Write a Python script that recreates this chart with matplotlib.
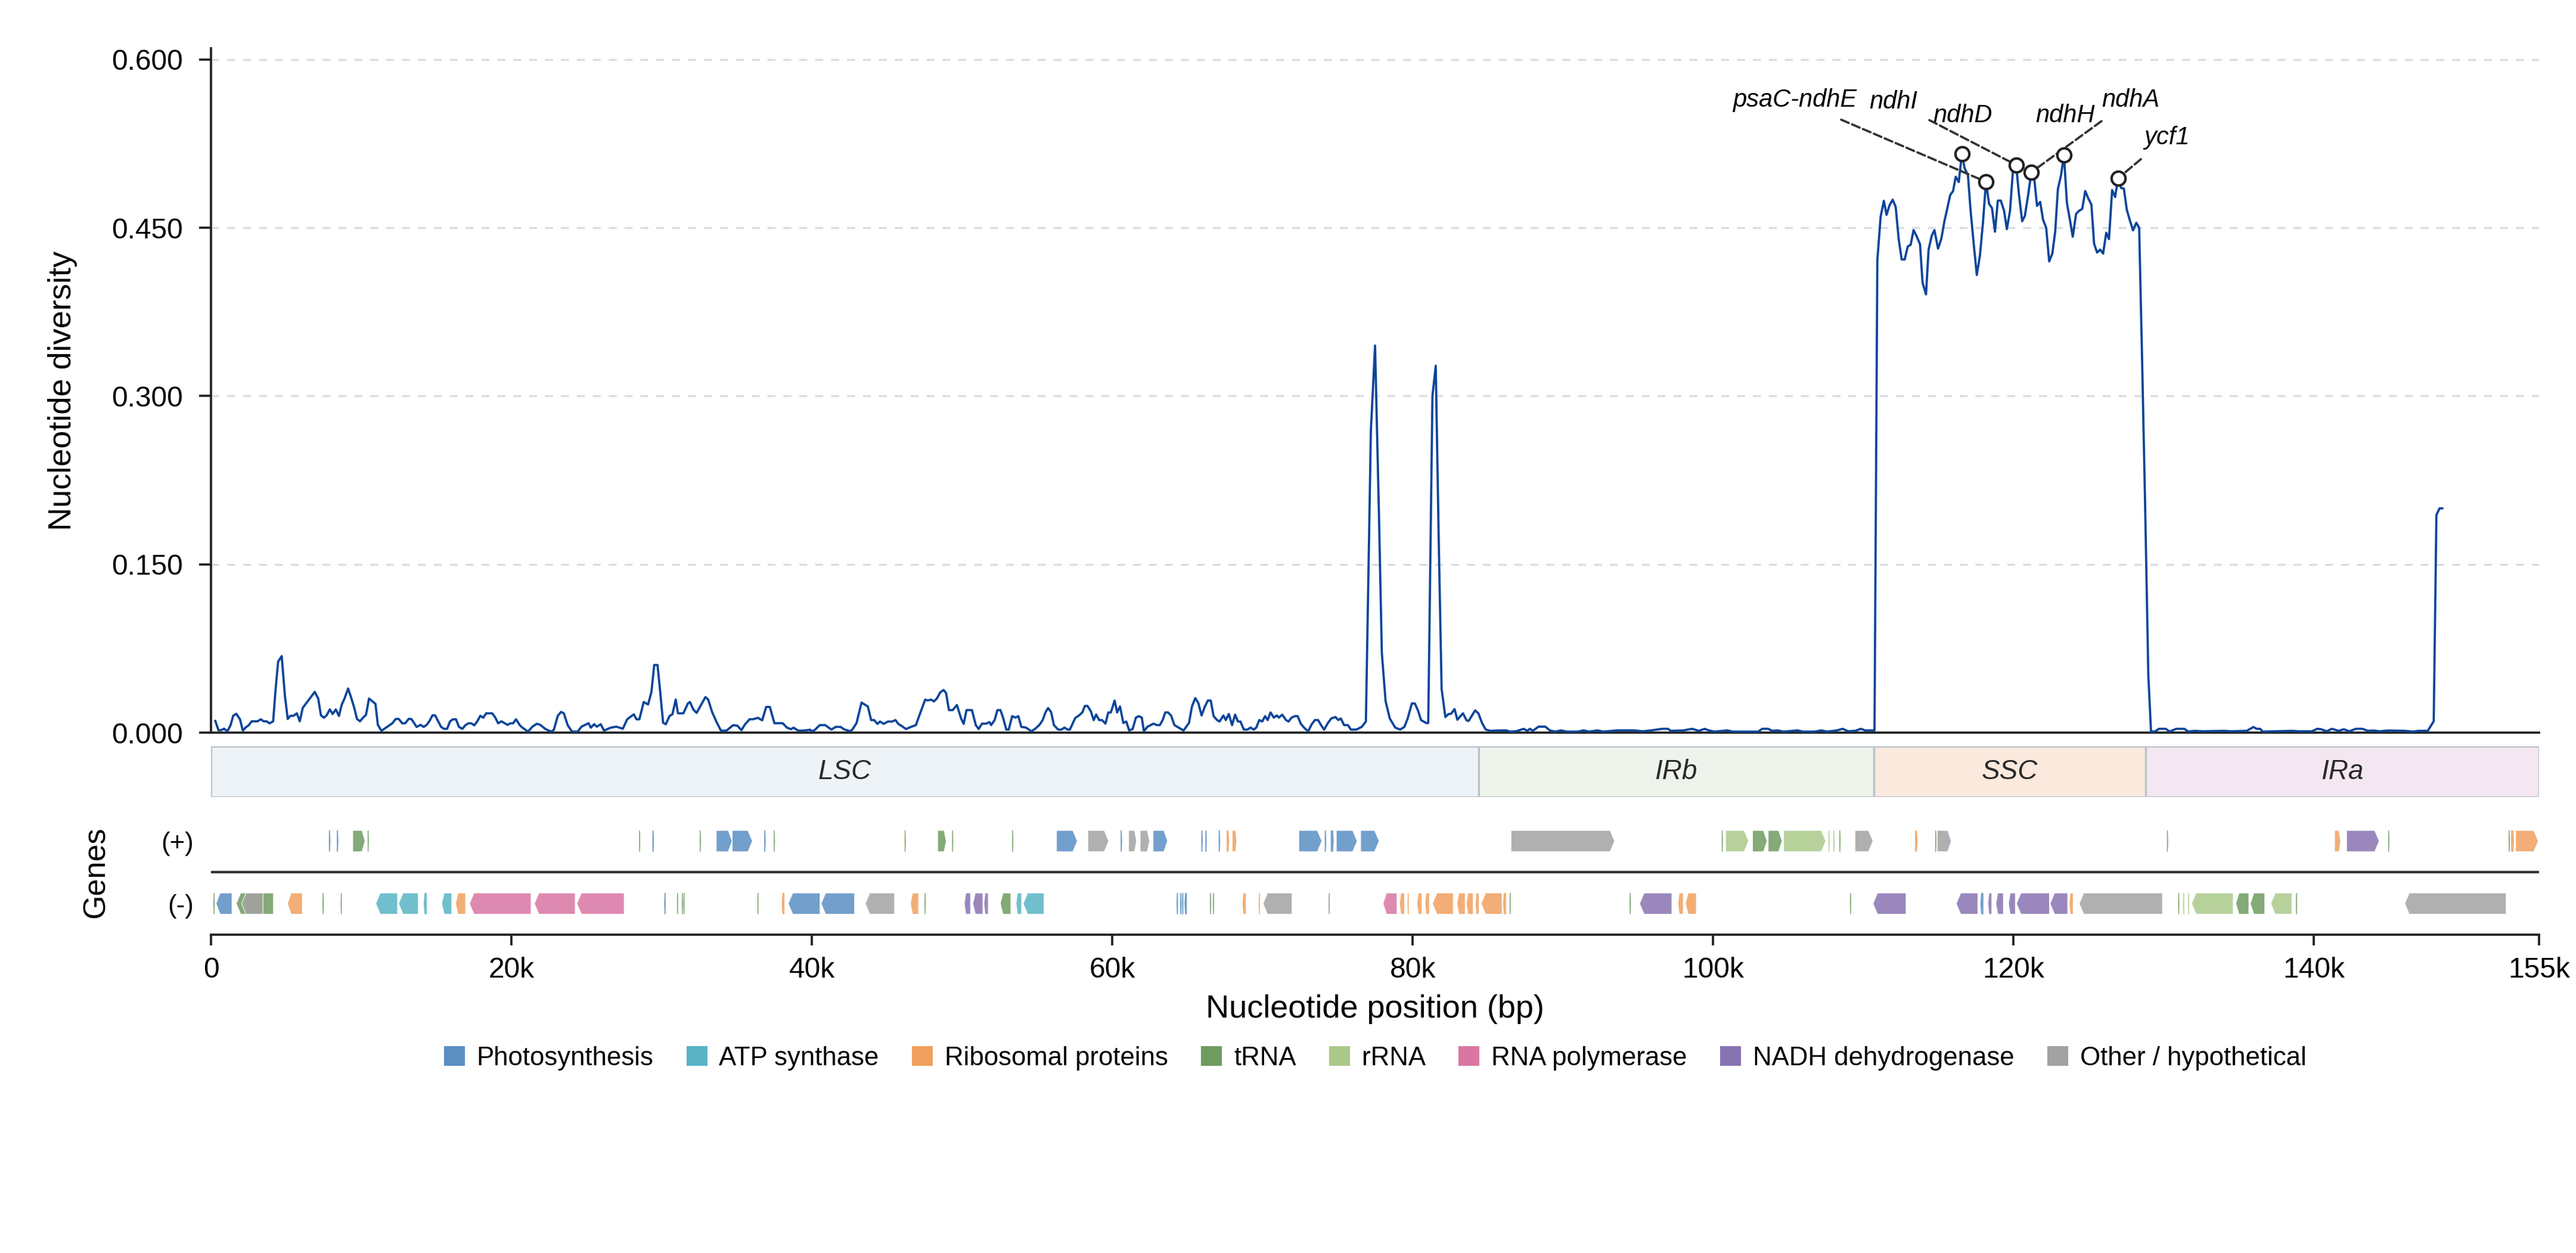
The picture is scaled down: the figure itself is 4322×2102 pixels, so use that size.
import numpy as np
import matplotlib
matplotlib.use("Agg")
import matplotlib.pyplot as plt
from matplotlib.patches import Polygon, Rectangle, Patch

plt.rcParams['font.family'] = ['Liberation Sans', 'DejaVu Sans']

# ---- nucleotide diversity (window midpoint in kb, Pi) ----
lsc_start = [
    (0.29, .0104), (0.50, .0021), (0.69, .0023), (0.87, .0035), (1.09, .0012), (1.30, .0065),
    (1.48, .0150), (1.69, .0168), (1.93, .0119), (2.12, .0018), (2.32, .0048), (2.51, .0065),
    (2.71, .0101), (3.11, .0101), (3.31, .0119), (3.51, .0101), (3.70, .0101), (3.90, .0083),
    (4.14, .0101), (4.30, .0384), (4.47, .0632), (4.71, .0682), (4.92, .0331), (5.11, .0122),
    (5.29, .0150), (5.49, .0150), (5.72, .0172), (5.91, .0101), (6.11, .0221), (6.28, .0251),
    (6.55, .0299), (6.91, .0363), (7.14, .0304), (7.32, .0154), (7.52, .0133), (7.70, .0154),
    (7.91, .0207), (8.10, .0166), (8.31, .0207), (8.52, .0149), (8.71, .0251), (8.89, .0304),
    (9.13, .0393), (9.33, .0313), (9.53, .0225), (9.72, .0122), (9.92, .0101), (10.12, .0133),
    (10.32, .0158), (10.52, .0304), (10.95, .0257), (11.11, .0069), (11.35, .0016), (12.07, .0083),
    (12.30, .0122), (12.50, .0122), (12.73, .0083), (12.93, .0083), (13.16, .0122), (13.34, .0122),
    (13.69, .0051), (13.96, .0069), (14.16, .0051), (14.36, .0069), (14.55, .0104), (14.75, .0154),
    (14.92, .0154), (15.32, .0051), (15.51, .0034), (15.72, .0034), (15.92, .0101), (16.11, .0119),
    (16.31, .0119), (16.51, .0051), (16.74, .0034), (16.93, .0065), (17.13, .0083), (17.33, .0083),
    (17.53, .0065), (17.73, .0101), (17.93, .0150), (18.13, .0133), (18.32, .0172), (18.72, .0172),
    (18.92, .0136), (19.12, .0083), (19.34, .0101), (19.56, .0083), (19.74, .0069), (19.94, .0083),
    (20.11, .0083), (20.31, .0119), (20.57, .0065),
]
lsc_mid = [
    (20.74, .0044), (21.11, .0009), (21.40, .0053), (21.69, .0079), (21.91, .0070), (22.28, .0031),
    (22.65, .0009), (22.83, .0026), (23.09, .0150), (23.31, .0185), (23.49, .0172), (23.75, .0066),
    (24.04, .0009), (24.41, .0009), (24.67, .0053), (25.14, .0084), (25.29, .0044), (25.51, .0075),
    (25.69, .0053), (25.95, .0075), (26.17, .0018), (26.61, .0044), (26.98, .0053), (27.42, .0035),
    (27.71, .0119), (28.15, .0163), (28.33, .0119), (28.52, .0119), (28.81, .0273), (29.10, .0251),
    (29.32, .0361), (29.51, .0603), (29.73, .0603), (29.91, .0361), (30.10, .0088), (30.28, .0075),
    (30.54, .0150), (30.72, .0163), (30.94, .0295), (31.09, .0172), (31.45, .0172), (31.75, .0260),
    (31.89, .0273), (32.11, .0207), (32.33, .0176), (32.55, .0229), (32.92, .0317), (33.10, .0295),
    (33.36, .0185), (33.65, .0097), (33.95, .0018), (34.32, .0018), (34.76, .0066), (35.05, .0062),
    (35.31, .0022), (35.56, .0075), (35.86, .0119), (36.08, .0119), (36.41, .0132), (36.70, .0110),
    (36.96, .0229), (37.21, .0229), (37.51, .0084), (38.06, .0084), (38.35, .0044), (38.61, .0031),
    (38.79, .0044), (39.09, .0018), (39.45, .0018), (39.89, .0026),
]
lsc_end = [
    (40.00, .0011), (40.20, .0024), (40.53, .0067), (40.89, .0067), (41.31, .0027), (41.59, .0051),
    (41.92, .0051), (42.15, .0029), (42.56, .0013), (42.70, .0027), (42.98, .0086), (43.31, .0268),
    (43.73, .0233), (43.95, .0112), (44.15, .0112), (44.37, .0078), (44.54, .0099), (44.79, .0078),
    (45.07, .0099), (45.35, .0099), (45.57, .0112), (45.76, .0078), (46.04, .0054), (46.27, .0032),
    (46.60, .0051), (46.93, .0067), (47.16, .0153), (47.38, .0233), (47.55, .0294), (47.71, .0287),
    (47.94, .0294), (48.13, .0278), (48.33, .0305), (48.55, .0358), (48.77, .0380), (48.94, .0353),
    (49.13, .0201), (49.38, .0201), (49.66, .0246), (49.94, .0126), (50.11, .0078), (50.30, .0201),
    (50.66, .0201), (50.92, .0067), (51.11, .0032), (51.33, .0080), (51.61, .0080), (51.83, .0094),
    (51.94, .0067), (52.17, .0112), (52.36, .0201), (52.56, .0201), (52.72, .0139), (52.95, .0027),
    (53.11, .0027), (53.34, .0147), (53.56, .0134), (53.75, .0147), (53.95, .0051), (54.26, .0045),
    (54.62, .0011), (54.90, .0037), (55.17, .0072), (55.37, .0112), (55.57, .0184), (55.73, .0219),
    (55.93, .0184), (56.12, .0067), (56.40, .0027), (56.62, .0027), (56.82, .0045), (57.04, .0027),
    (57.18, .0027), (57.54, .0131), (57.79, .0153), (58.01, .0180), (58.18, .0238), (58.35, .0238),
    (58.57, .0193), (58.77, .0112), (58.93, .0161), (59.13, .0112), (59.32, .0112), (59.55, .0080),
    (59.74, .0180), (59.91, .0180), (60.16, .0286), (60.33, .0180), (60.52, .0233), (60.74, .0086),
    (60.94, .0099), (61.13, .0019), (61.36, .0032), (61.58, .0134), (61.77, .0147), (61.97, .0134),
    (62.11, .0011), (62.33, .0051), (62.75, .0080), (62.97, .0067), (63.17, .0067), (63.36, .0112),
    (63.53, .0180), (63.72, .0180), (63.92, .0153), (64.14, .0067), (64.42, .0045), (64.75, .0019),
    (65.11, .0086), (65.31, .0233), (65.53, .0308), (65.73, .0265), (65.95, .0153), (66.17, .0233),
    (66.37, .0286), (66.56, .0286), (66.75, .0147), (66.98, .0112), (67.15, .0099), (67.40, .0153),
    (67.56, .0112), (67.76, .0166), (67.98, .0067), (68.18, .0160), (68.37, .0099), (68.54, .0099),
    (68.76, .0027), (69.01, .0027), (69.21, .0045), (69.43, .0027), (69.59, .0045), (69.79, .0112),
    (69.99, .0099), (70.18, .0147), (70.35, .0112), (70.54, .0180), (70.76, .0134), (70.96, .0153),
    (71.10, .0134), (71.32, .0160), (71.57, .0112), (71.74, .0099), (71.94, .0134), (72.16, .0147),
    (72.35, .0147), (72.55, .0080), (72.77, .0045), (73.05, .0011), (73.27, .0072), (73.49, .0112),
    (73.71, .0112), (73.94, .0059), (74.11, .0027), (74.36, .0086), (74.58, .0126), (74.86, .0139),
    (75.05, .0112), (75.22, .0126), (75.44, .0067), (75.69, .0067), (75.89, .0027), (76.25, .0027),
    (76.61, .0051), (76.89, .0099), (77.22, .2690), (77.50, .3450), (77.75, .2000), (77.95, .0710),
    (78.20, .0281), (78.48, .0126), (78.84, .0045), (79.17, .0027), (79.45, .0051), (79.67, .0126),
    (79.95, .0260), (80.15, .0260), (80.37, .0193), (80.56, .0112), (80.90, .0086), (81.04, .0086),
    (81.32, .3000), (81.54, .3270), (81.74, .1700), (81.93, .0390), (82.18, .0139), (82.38, .0165),
    (82.56, .0168), (82.79, .0210), (82.98, .0115), (83.35, .0172), (83.59, .0110), (83.73, .0104),
    (84.16, .0198),
]
irb = [
    (84.38, .0172), (84.63, .0083), (84.87, .0027), (85.19, .0016), (85.85, .0020), (86.22, .0020),
    (86.50, .0009), (86.88, .0012), (87.40, .0034), (87.63, .0016), (87.81, .0034), (88.00, .0016),
    (88.38, .0053), (88.84, .0053), (89.13, .0020), (89.50, .0009), (89.88, .0020), (90.25, .0009),
    (91.00, .0009), (91.38, .0020), (91.75, .0009), (92.31, .0020), (92.69, .0009), (93.63, .0020),
    (94.75, .0020), (95.31, .0012), (95.88, .0020), (96.63, .0034), (97.00, .0034), (97.19, .0016),
    (98.03, .0020), (98.60, .0034), (99.06, .0016), (99.44, .0034), (99.72, .0020), (100.10, .0009),
    (100.94, .0020), (101.31, .0009), (103.00, .0009), (103.28, .0034), (103.66, .0034), (103.94, .0016),
    (104.31, .0020), (104.69, .0009), (105.63, .0020), (106.00, .0009), (106.75, .0009), (107.22, .0020),
    (107.59, .0009), (108.25, .0020), (108.63, .0034), (109.00, .0012), (109.47, .0016), (109.84, .0034),
    (110.13, .0020), (110.75, .0020),
]
ssc = [
    (110.94, .421), (111.16, .460), (111.37, .474), (111.55, .4615), (111.75, .470), (111.96, .475),
    (112.16, .4686), (112.36, .440), (112.56, .4217), (112.76, .4217), (112.96, .4332), (113.16, .4349),
    (113.35, .4479), (113.57, .442), (113.78, .4353), (113.95, .401), (114.18, .3906), (114.35, .4305),
    (114.56, .4429), (114.74, .4479), (114.98, .4314), (115.20, .4403), (115.41, .4562), (115.59, .4668),
    (115.79, .4792), (115.98, .4827), (116.16, .4955), (116.36, .4907), (116.57, .516), (116.75, .503),
    (116.97, .497), (117.15, .465), (117.36, .435), (117.56, .4079), (117.77, .4253), (117.97, .4544),
    (118.17, .491), (118.38, .4712), (118.57, .4677), (118.77, .4465), (118.96, .4742), (119.16, .4742),
    (119.38, .465), (119.56, .4488), (119.77, .465), (119.97, .5013), (120.18, .506), (120.37, .4792),
    (120.58, .4558), (120.76, .4606), (120.98, .4792), (121.19, .4995), (121.39, .4934), (121.57, .4695),
    (121.78, .473), (121.97, .4571), (122.18, .450), (122.38, .420), (122.59, .4271), (122.78, .4465),
    (122.96, .4845), (123.17, .4969), (123.36, .515), (123.56, .4721), (123.77, .4562), (123.95, .442),
    (124.17, .4624), (124.36, .465), (124.58, .4668), (124.78, .4827), (124.97, .4765), (125.19, .4707),
    (125.37, .4358), (125.57, .4279), (125.77, .4305), (125.97, .427), (126.18, .4456), (126.36, .4399),
    (126.57, .4836), (126.77, .4774), (126.96, .494), (127.17, .4854), (127.35, .4849), (127.55, .4659),
    (127.76, .4562), (127.96, .4477), (128.18, .4544), (128.37, .450), (128.57, .330), (128.77, .200),
    (128.98, .051),
]
ira = [
    (129.16, .0010), (129.42, .0010), (129.69, .0034), (130.13, .0034), (130.40, .0010), (130.84, .0034),
    (131.37, .0034), (131.64, .0010), (132.08, .0016), (132.60, .0012), (134.03, .0016), (134.47, .0012),
    (135.53, .0016), (135.98, .0050), (136.19, .0034), (136.42, .0034), (136.60, .0009), (138.55, .0016),
    (138.99, .0012), (139.87, .0012), (140.23, .0034), (140.49, .0030), (140.85, .0012), (141.20, .0034),
    (141.65, .0016), (142.00, .0030), (142.35, .0012), (142.80, .0034), (143.24, .0034), (143.59, .0016),
    (143.95, .0019), (144.39, .0012), (144.92, .0019), (146.07, .0016), (146.60, .0009), (146.96, .0016),
    (147.58, .0016), (147.98, .0101), (148.16, .1940), (148.37, .1999), (148.55, .1999),
]

# highlighted peaks
peak_genes = ['ndhD', 'psaC-ndhE', 'ndhI', 'ndhA', 'ndhH', 'ycf1']
peak_kb = [116.57, 118.17, 120.18, 121.19, 123.36, 126.96]

# ---- regions ----
region_names = ['LSC', 'IRb', 'SSC', 'IRa']
region_edges = [0, 84.4, 110.7, 128.79, 155]
region_colors = ['#eef3f7', '#eef3ec', '#fae9dc', '#f4e7f2']

# ---- genes (start kb, end kb, category) ----
genes_plus = [
    (7.85, 7.95, 'photo'), (8.38, 8.48, 'photo'), (9.44, 10.26, 'trna'), (10.43, 10.51, 'trna'),
    (28.50, 28.58, 'trna'), (29.39, 29.49, 'photo'), (32.54, 32.62, 'trna'), (33.64, 34.70, 'photo'),
    (34.70, 36.05, 'photo'), (36.83, 36.93, 'photo'), (37.47, 37.55, 'trna'), (46.18, 46.26, 'trna'),
    (48.38, 48.95, 'trna'), (49.34, 49.42, 'trna'), (53.34, 53.42, 'trna'), (56.29, 57.68, 'photo'),
    (58.38, 59.77, 'other'), (60.56, 60.66, 'photo'), (61.09, 61.62, 'other'), (61.86, 62.49, 'other'),
    (62.72, 63.68, 'photo'), (65.93, 66.03, 'photo'), (66.20, 66.30, 'photo'), (67.09, 67.19, 'photo'),
    (67.62, 67.79, 'ribo'), (67.99, 68.29, 'ribo'), (72.43, 73.96, 'photo'), (74.15, 74.25, 'photo'),
    (74.55, 74.75, 'photo'), (74.92, 76.31, 'photo'), (76.54, 77.77, 'photo'), (86.55, 93.45, 'other'),
    (100.58, 100.66, 'trna'), (100.84, 102.37, 'rrna'), (102.63, 103.60, 'trna'), (103.67, 104.60, 'trna'),
    (104.70, 107.51, 'rrna'), (107.68, 107.76, 'rrna'), (108.01, 108.09, 'rrna'), (108.41, 108.49, 'trna'),
    (109.45, 110.65, 'other'), (113.45, 113.62, 'ribo'), (114.79, 114.87, 'trna'), (114.92, 115.86, 'other'),
    (130.22, 130.30, 'trna'), (141.38, 141.78, 'ribo'), (142.18, 144.35, 'nadh'), (144.95, 145.03, 'trna'),
    (152.97, 153.05, 'trna'), (153.13, 153.33, 'ribo'), (153.43, 154.94, 'ribo'),
]
genes_minus = [
    (0.16, 0.24, 'trna'), (0.34, 1.40, 'photo'), (1.68, 4.16, 'trna'), (2.04, 3.46, 'other'),
    (5.09, 6.08, 'ribo'), (7.42, 7.50, 'trna'), (8.63, 8.71, 'trna'), (10.97, 12.42, 'atp'),
    (12.49, 13.80, 'atp'), (14.16, 14.37, 'atp'), (15.36, 16.03, 'atp'), (16.28, 16.95, 'ribo'),
    (17.21, 21.31, 'rnap'), (21.53, 24.25, 'rnap'), (24.36, 27.51, 'rnap'), (30.17, 30.27, 'photo'),
    (31.02, 31.10, 'trna'), (31.34, 31.42, 'trna'), (31.45, 31.53, 'trna'), (36.37, 36.45, 'trna'),
    (38.00, 38.18, 'ribo'), (38.43, 40.55, 'photo'), (40.62, 42.85, 'photo'), (43.56, 45.51, 'other'),
    (46.57, 47.11, 'ribo'), (47.50, 47.58, 'trna'), (50.15, 50.57, 'nadh'), (50.72, 51.39, 'nadh'),
    (51.46, 51.75, 'nadh'), (52.55, 53.25, 'trna'), (53.60, 53.97, 'atp'), (54.07, 55.46, 'atp'),
    (64.28, 64.38, 'photo'), (64.51, 64.61, 'photo'), (64.64, 64.74, 'photo'), (64.81, 64.97, 'photo'),
    (66.50, 66.58, 'trna'), (66.70, 66.78, 'trna'), (68.65, 68.92, 'ribo'), (69.75, 69.83, 'ribo'),
    (70.04, 71.97, 'other'), (74.39, 74.49, 'other'), (78.03, 78.96, 'rnap'), (79.13, 79.46, 'ribo'),
    (79.66, 79.74, 'ribo'), (80.29, 80.62, 'ribo'), (80.82, 81.12, 'ribo'), (81.32, 82.71, 'ribo'),
    (82.94, 83.50, 'ribo'), (83.57, 84.03, 'ribo'), (84.17, 84.43, 'ribo'), (84.56, 85.96, 'ribo'),
    (86.02, 86.22, 'ribo'), (86.45, 86.53, 'trna'), (94.44, 94.52, 'trna'), (95.11, 97.26, 'nadh'),
    (97.66, 98.02, 'ribo'), (98.16, 98.89, 'ribo'), (109.11, 109.19, 'trna'), (110.65, 112.85, 'nadh'),
    (116.19, 117.63, 'nadh'), (117.80, 118.00, 'photo'), (118.30, 118.56, 'nadh'), (118.83, 119.33, 'nadh'),
    (119.67, 120.13, 'nadh'), (120.20, 122.40, 'nadh'), (122.44, 123.61, 'nadh'), (123.71, 123.98, 'ribo'),
    (124.38, 129.92, 'other'), (130.96, 131.04, 'trna'), (131.29, 131.37, 'rrna'), (131.62, 131.70, 'rrna'),
    (131.86, 134.63, 'rrna'), (134.80, 135.67, 'trna'), (135.77, 136.73, 'trna'), (137.13, 138.54, 'rrna'),
    (138.80, 138.88, 'trna'), (146.05, 152.80, 'other'),
]

cat_keys = ['photo', 'atp', 'ribo', 'trna', 'rrna', 'rnap', 'nadh', 'other']
cat_labels = ['Photosynthesis', 'ATP synthase', 'Ribosomal proteins', 'tRNA', 'rRNA',
              'RNA polymerase', 'NADH dehydrogenase', 'Other / hypothetical']
cat_colors = ['#5b8ec3', '#58b4c5', '#f0a05e', '#6e9b5f', '#abc98a', '#d976a2', '#8873b2', '#a2a2a2']
colmap = dict(zip(cat_keys, cat_colors))

xticks_kb = [0, 20, 40, 60, 80, 100, 120, 140, 155]
xtick_labels = ['0', '20k', '40k', '60k', '80k', '100k', '120k', '140k', '155k']
yticks = [0.0, 0.15, 0.30, 0.45, 0.60]

# -------------------------------------------------------------------
pos = np.array([p for seg in (lsc_start, lsc_mid, lsc_end, irb, ssc, ira) for p, _ in seg])
pi = np.array([v for seg in (lsc_start, lsc_mid, lsc_end, irb, ssc, ira) for _, v in seg])

fig = plt.figure(figsize=(4322 / 300, 2102 / 300), dpi=300)
L, W = 0.0819, 0.9038
ax = fig.add_axes([L, 0.4153, W, 0.5462])
ax_r = fig.add_axes([L, 0.3638, W, 0.0407])
ax_g = fig.add_axes([L, 0.2539, W, 0.0998])

spine_c = '#222222'

# main diversity panel
ax.plot(pos, pi, color='#0c4599', lw=0.9, zorder=3)
ax.set_xlim(0, 155)
ax.set_ylim(0, 0.61)
ax.set_yticks(yticks)
ax.set_yticklabels(['%.3f' % t for t in yticks], fontsize=11.5)
ax.tick_params(axis='y', length=4.7, width=0.9, color=spine_c, pad=6.5)
ax.tick_params(axis='x', bottom=False, labelbottom=False)
ax.yaxis.grid(True, linestyle=(0, (4, 4)), color='#d8dde3', lw=0.8)
ax.set_axisbelow(True)
for s in ['top', 'right']:
    ax.spines[s].set_visible(False)
for s in ['left', 'bottom']:
    ax.spines[s].set_color(spine_c)
    ax.spines[s].set_linewidth(0.9)
ax.set_ylabel('Nucleotide diversity', fontsize=13, va='center')
ax.yaxis.set_label_coords(-0.0637, 0.5)

# label layout for the peaks: text centre (kb, Pi), draw connector
label_xy = {
    'psaC-ndhE': (105.45, 0.564, True),
    'ndhI': (112.02, 0.5624, True),
    'ndhD': (116.62, 0.550, False),
    'ndhH': (123.45, 0.550, False),
    'ndhA': (127.81, 0.564, True),
    'ycf1': (130.21, 0.5305, True),
}
for name, xk in zip(peak_genes, peak_kb):
    yv = np.interp(xk, pos, pi)
    tx, ty, conn = label_xy[name]
    ax.plot(xk, yv, 'o', ms=5.6, mfc='white', mec='#222222', mew=1.0, zorder=6)
    if conn:
        ax.annotate(name, xy=(xk, yv), xytext=(tx, ty), ha='center', va='center',
                    fontsize=10, fontstyle='italic', zorder=5,
                    arrowprops=dict(arrowstyle='-', linestyle='--', color='#333333',
                                    lw=0.9, shrinkA=3, shrinkB=0))
    else:
        ax.text(tx, ty, name, ha='center', va='center', fontsize=10,
                fontstyle='italic', zorder=5)

# region bar
for name, a, b, c in zip(region_names, region_edges[:-1], region_edges[1:], region_colors):
    ax_r.add_patch(Rectangle((a, 0), b - a, 1, facecolor=c, edgecolor='#b9c2cb', lw=0.8))
    ax_r.text((a + b) / 2, 0.5, name, ha='center', va='center', fontsize=11,
              fontstyle='italic', color='#2a2a2a')
ax_r.set_xlim(0, 155)
ax_r.set_ylim(0, 1)
ax_r.axis('off')


# gene track
def gene_shape(s, e, y, strand, h=0.68):
    head = min(0.3, 0.25 * (e - s))
    if strand > 0:
        pts = [(s, y - h / 2), (e - head, y - h / 2), (e, y), (e - head, y + h / 2), (s, y + h / 2)]
    else:
        pts = [(e, y - h / 2), (s + head, y - h / 2), (s, y), (s + head, y + h / 2), (e, y + h / 2)]
    return pts


for genes, yrow, strand in [(genes_plus, 1, 1), (genes_minus, -1, -1)]:
    for s, e, cat in genes:
        thin = (e - s) < 0.25
        ax_g.add_patch(Polygon(gene_shape(s, e, yrow, strand), closed=True,
                               facecolor=colmap[cat], alpha=0.85,
                               edgecolor='none' if thin else 'white', lw=0.3))

ax_g.axhline(0, color='#333333', lw=1.0)
ax_g.set_xlim(0, 155)
ax_g.set_ylim(-2, 2)
ax_g.set_yticks([1, -1])
ax_g.set_yticklabels(['(+)', '(-)'], fontsize=10.5)
ax_g.tick_params(axis='y', length=0, pad=7)
ax_g.set_xticks(xticks_kb)
ax_g.set_xticklabels(xtick_labels, fontsize=11.5)
ax_g.tick_params(axis='x', length=4.3, width=0.9, color=spine_c, pad=4.5)
for s in ['top', 'right', 'left']:
    ax_g.spines[s].set_visible(False)
ax_g.spines['bottom'].set_color(spine_c)
ax_g.spines['bottom'].set_linewidth(0.9)
ax_g.set_ylabel('Genes', fontsize=12.5, va='center')
ax_g.yaxis.set_label_coords(-0.0494, 0.5)
ax_g.set_xlabel('Nucleotide position (bp)', fontsize=13, va='center')
ax_g.xaxis.set_label_coords(0.5, -0.595)

handles = [Patch(facecolor=c, edgecolor='none', label=l) for c, l in zip(cat_colors, cat_labels)]
fig.legend(handles=handles, loc='center', bbox_to_anchor=(0.5338, 0.1555), ncol=8,
           frameon=False, fontsize=10.5, handlelength=0.8, handleheight=0.8,
           handletextpad=0.45, columnspacing=1.27)

fig.savefig('out.png', dpi=300)
